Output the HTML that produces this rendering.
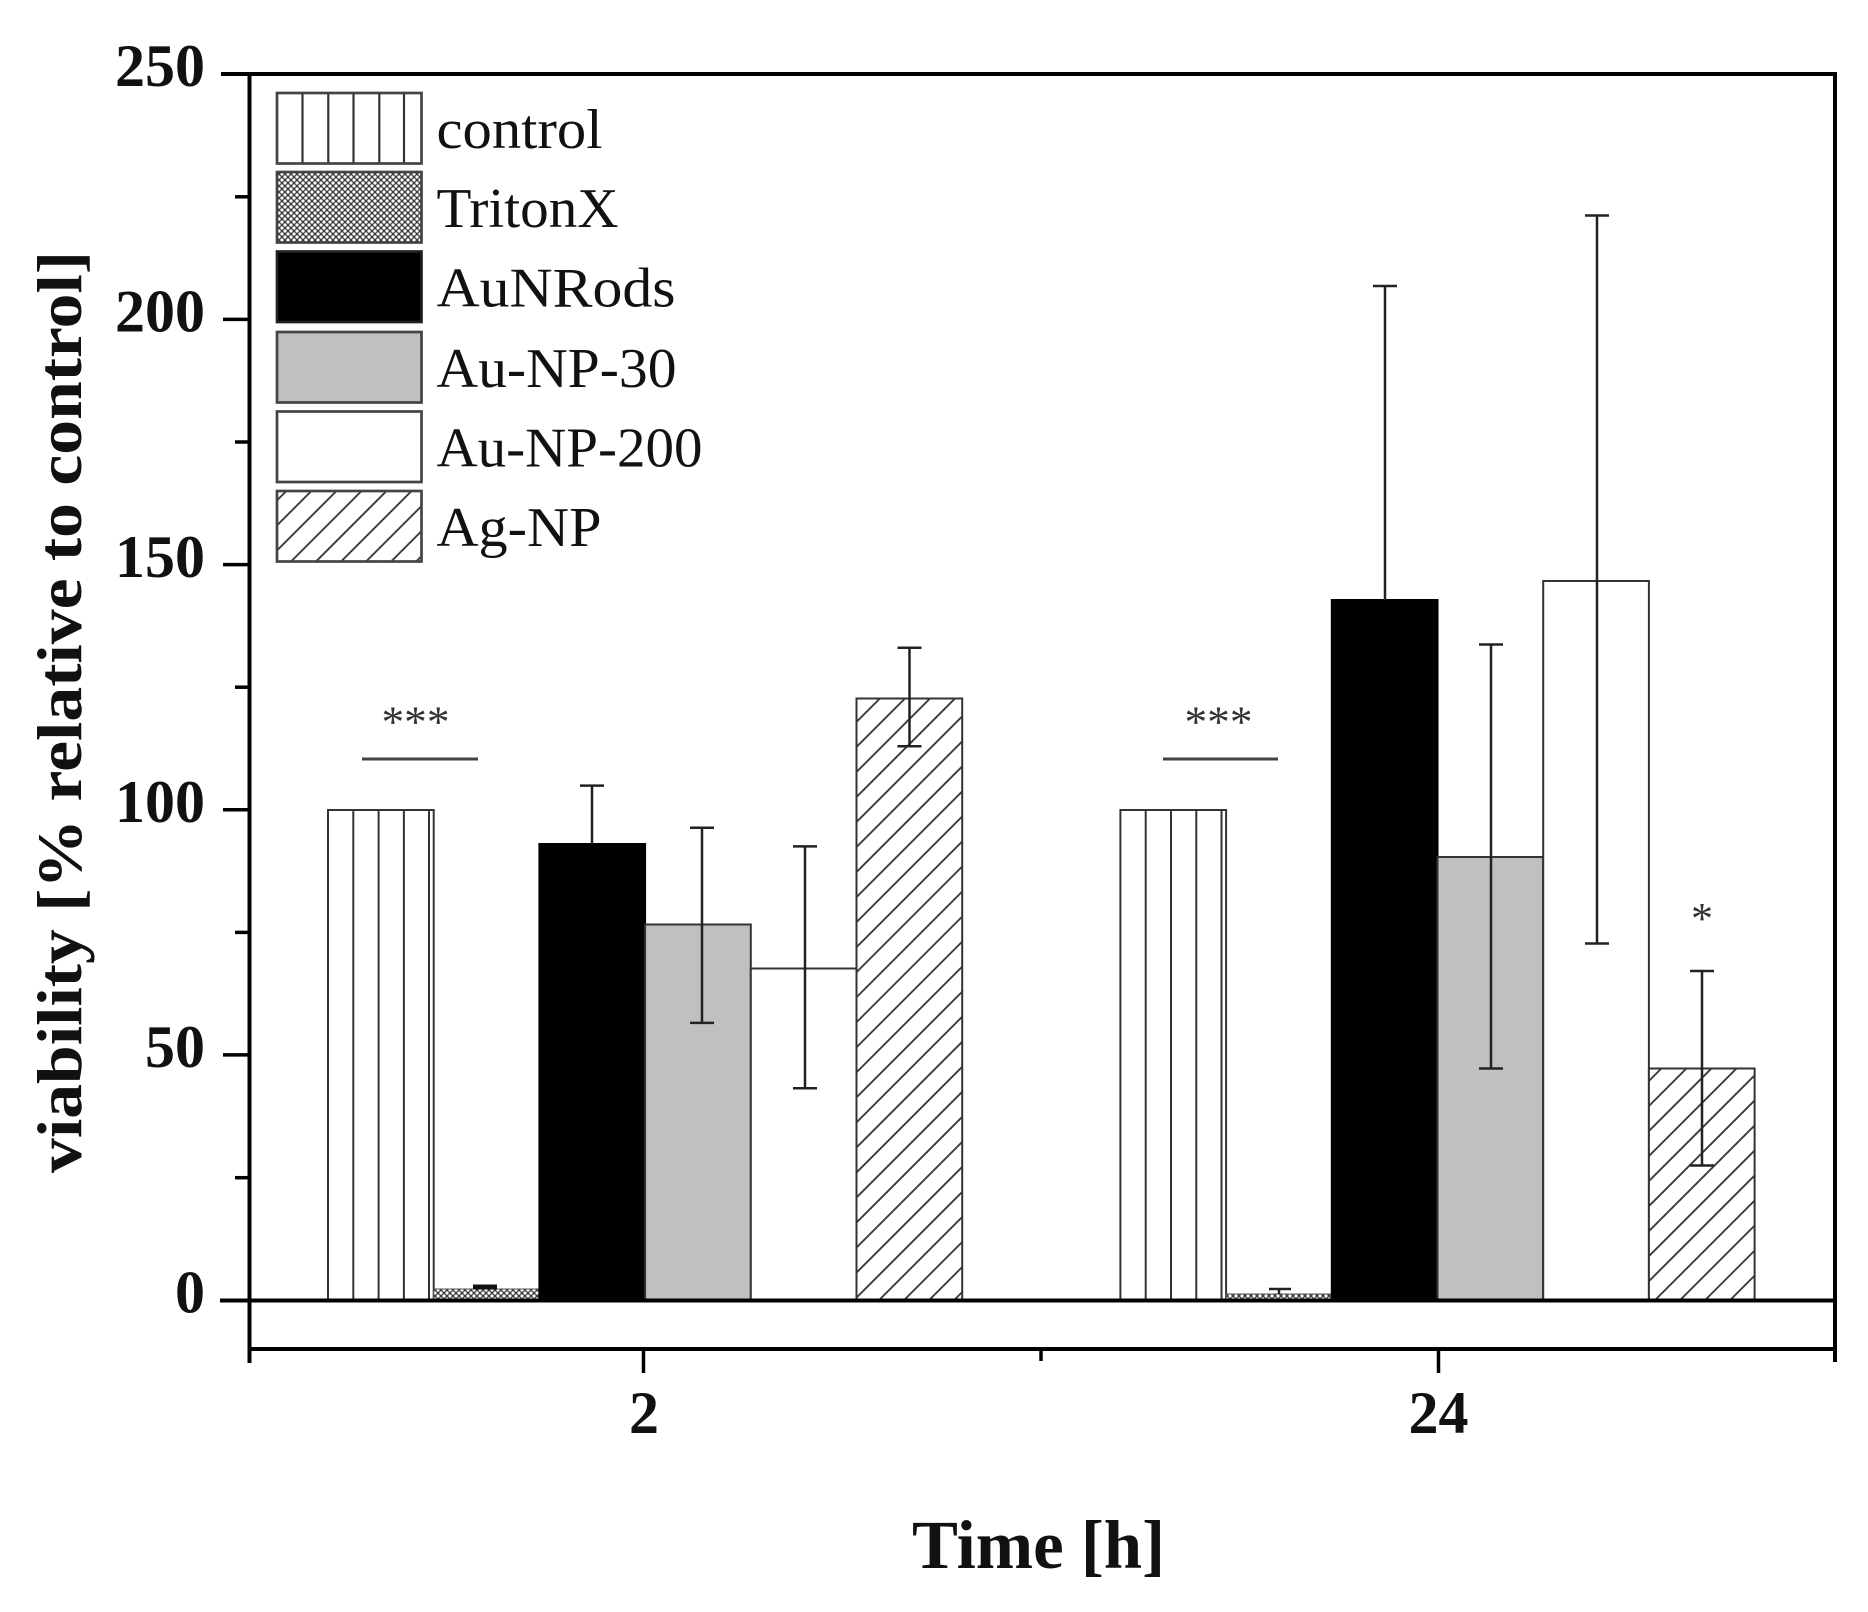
<!DOCTYPE html>
<html>
<head>
<meta charset="utf-8">
<style>
  html, body { margin: 0; padding: 0; background: #ffffff; }
  body { width: 1868px; height: 1612px; overflow: hidden; }
  svg { display: block; }
</style>
</head>
<body>
<svg width="1868" height="1612" viewBox="0 0 1868 1612" xmlns="http://www.w3.org/2000/svg">
  <defs>
    <pattern id="dots" patternUnits="userSpaceOnUse" width="6" height="6">
      <rect x="0" y="0" width="6" height="6" fill="#3c3c3c"/>
      <circle cx="0" cy="0" r="1.6" fill="#fff"/>
      <circle cx="6" cy="0" r="1.6" fill="#fff"/>
      <circle cx="0" cy="6" r="1.6" fill="#fff"/>
      <circle cx="6" cy="6" r="1.6" fill="#fff"/>
      <circle cx="3" cy="3" r="1.6" fill="#fff"/>
    </pattern>
    <pattern id="hatch" patternUnits="userSpaceOnUse" width="17.7" height="20" patternTransform="rotate(45)">
      <rect x="0" y="0" width="17.7" height="20" fill="#fff"/>
      <line x1="1" y1="0" x2="1" y2="20" stroke="#333" stroke-width="1.8"/>
    </pattern>
  </defs>

  <rect x="0" y="0" width="1868" height="1612" fill="#fff"/>

  <!-- ===== Bars: group 2 ===== -->
  <!-- control -->
  <rect x="328" y="810" width="105.7" height="490.5" fill="#fff" stroke="#333" stroke-width="2"/>
  <g stroke="#333" stroke-width="2">
    <line x1="353.3" y1="810" x2="353.3" y2="1300"/>
    <line x1="378.6" y1="810" x2="378.6" y2="1300"/>
    <line x1="403.9" y1="810" x2="403.9" y2="1300"/>
    <line x1="429" y1="810" x2="429" y2="1300"/>
  </g>
  <!-- TritonX -->
  <rect x="433.7" y="1289" width="105.7" height="11.5" fill="url(#dots)" stroke="#555" stroke-width="1"/>
  <rect x="473" y="1284.5" width="24" height="5" fill="#111"/>
  <!-- AuNRods -->
  <rect x="539.4" y="844" width="105.7" height="456.5" fill="#000" stroke="#000" stroke-width="2"/>
  <!-- Au-NP-30 -->
  <rect x="645.1" y="924.5" width="105.7" height="376" fill="#c0c0c0" stroke="#333" stroke-width="2"/>
  <!-- Au-NP-200 -->
  <rect x="750.8" y="968.5" width="105.7" height="332" fill="#fff" stroke="#333" stroke-width="2"/>
  <!-- Ag-NP -->
  <rect x="856.5" y="698.5" width="105.7" height="602" fill="url(#hatch)" stroke="#333" stroke-width="2"/>

  <!-- ===== Bars: group 24 ===== -->
  <rect x="1120.4" y="810" width="105.7" height="490.5" fill="#fff" stroke="#333" stroke-width="2"/>
  <g stroke="#333" stroke-width="2">
    <line x1="1145.7" y1="810" x2="1145.7" y2="1300"/>
    <line x1="1171" y1="810" x2="1171" y2="1300"/>
    <line x1="1196.3" y1="810" x2="1196.3" y2="1300"/>
    <line x1="1221.5" y1="810" x2="1221.5" y2="1300"/>
  </g>
  <rect x="1226.1" y="1294" width="105.7" height="6.5" fill="url(#dots)" stroke="#555" stroke-width="1"/>
  <line x1="1279" y1="1289" x2="1279" y2="1294" stroke="#222" stroke-width="2.5"/>
  <line x1="1269" y1="1289" x2="1291" y2="1289" stroke="#222" stroke-width="2.5"/>
  <rect x="1331.8" y="600" width="105.7" height="700.5" fill="#000" stroke="#000" stroke-width="2"/>
  <rect x="1437.5" y="857" width="105.7" height="443.5" fill="#c0c0c0" stroke="#333" stroke-width="2"/>
  <rect x="1543.2" y="581" width="105.7" height="719.5" fill="#fff" stroke="#333" stroke-width="2"/>
  <rect x="1648.9" y="1068.5" width="105.7" height="232" fill="url(#hatch)" stroke="#333" stroke-width="2"/>

  <!-- ===== Error bars ===== -->
  <g stroke="#222" stroke-width="2.5" fill="none">
    <!-- g2 AuNRods -->
    <line x1="592" y1="785.6" x2="592" y2="844"/>
    <line x1="580" y1="785.6" x2="604" y2="785.6"/>
    <!-- g2 AuNP30 -->
    <line x1="702" y1="827.8" x2="702" y2="1022.9"/>
    <line x1="690" y1="827.8" x2="714" y2="827.8"/>
    <line x1="690" y1="1022.9" x2="714" y2="1022.9"/>
    <!-- g2 AuNP200 -->
    <line x1="805" y1="846.4" x2="805" y2="1088.2"/>
    <line x1="793" y1="846.4" x2="817" y2="846.4"/>
    <line x1="793" y1="1088.2" x2="817" y2="1088.2"/>
    <!-- g2 AgNP -->
    <line x1="909.5" y1="647.8" x2="909.5" y2="746.3"/>
    <line x1="897.5" y1="647.8" x2="921.5" y2="647.8"/>
    <line x1="897.5" y1="746.3" x2="921.5" y2="746.3"/>
    <!-- g24 AuNRods -->
    <line x1="1385" y1="286" x2="1385" y2="600"/>
    <line x1="1373" y1="286" x2="1397" y2="286"/>
    <!-- g24 AuNP30 -->
    <line x1="1491" y1="644.5" x2="1491" y2="1068.5"/>
    <line x1="1479" y1="644.5" x2="1503" y2="644.5"/>
    <line x1="1479" y1="1068.5" x2="1503" y2="1068.5"/>
    <!-- g24 AuNP200 -->
    <line x1="1597" y1="215.5" x2="1597" y2="943.5"/>
    <line x1="1585" y1="215.5" x2="1609" y2="215.5"/>
    <line x1="1585" y1="943.5" x2="1609" y2="943.5"/>
    <!-- g24 AgNP -->
    <line x1="1702" y1="971" x2="1702" y2="1165.5"/>
    <line x1="1690" y1="971" x2="1714" y2="971"/>
    <line x1="1690" y1="1165.5" x2="1714" y2="1165.5"/>
  </g>

  <!-- ===== Significance ===== -->
  <line x1="362" y1="759" x2="478" y2="759" stroke="#444" stroke-width="3"/>
  <line x1="1163" y1="759" x2="1278" y2="759" stroke="#444" stroke-width="3"/>
  <g font-family="'Liberation Serif', serif" font-size="44" fill="#333" text-anchor="middle">
    <text x="415.5" y="736.5" textLength="68" lengthAdjust="spacingAndGlyphs">***</text>
    <text x="1218.5" y="736.5" textLength="68" lengthAdjust="spacingAndGlyphs">***</text>
    <text x="1702" y="933">*</text>
  </g>

  <!-- ===== Axes frame ===== -->
  <g stroke="#000" stroke-width="4" fill="none" stroke-linecap="square">
    <line x1="223" y1="74" x2="1835" y2="74"/>
    <line x1="249.5" y1="74" x2="249.5" y2="1361"/>
    <line x1="1835" y1="74" x2="1835" y2="1360"/>
    <line x1="249.5" y1="1349" x2="1835" y2="1349"/>
    <line x1="222" y1="1300.5" x2="1835" y2="1300.5"/>
  </g>
  <!-- y ticks -->
  <g stroke="#000" stroke-width="3.5">
    <line x1="223" y1="319.4" x2="249" y2="319.4"/>
    <line x1="223" y1="564.6" x2="249" y2="564.6"/>
    <line x1="223" y1="809.8" x2="249" y2="809.8"/>
    <line x1="223" y1="1054.9" x2="249" y2="1054.9"/>
    <line x1="235" y1="196.8" x2="249" y2="196.8"/>
    <line x1="235" y1="442" x2="249" y2="442"/>
    <line x1="235" y1="687.2" x2="249" y2="687.2"/>
    <line x1="235" y1="932.4" x2="249" y2="932.4"/>
    <line x1="235" y1="1177.7" x2="249" y2="1177.7"/>
  </g>
  <!-- x ticks -->
  <g stroke="#000" stroke-width="3.5">
    <line x1="643.5" y1="1349" x2="643.5" y2="1373"/>
    <line x1="1041" y1="1349" x2="1041" y2="1361"/>
    <line x1="1438.5" y1="1349" x2="1438.5" y2="1373"/>
  </g>

  <!-- y tick labels -->
  <g font-family="'Liberation Serif', serif" font-size="60" font-weight="bold" fill="#111" text-anchor="end">
    <text x="205" y="86">250</text>
    <text x="205" y="331.5">200</text>
    <text x="205" y="576.8">150</text>
    <text x="205" y="822">100</text>
    <text x="205" y="1067">50</text>
    <text x="205" y="1312.5">0</text>
  </g>
  <!-- x tick labels -->
  <g font-family="'Liberation Serif', serif" font-size="60" font-weight="bold" fill="#111" text-anchor="middle">
    <text x="644" y="1433">2</text>
    <text x="1438.5" y="1433">24</text>
  </g>

  <!-- axis titles -->
  <text x="1038.5" y="1568" font-family="'Liberation Serif', serif" font-size="69" font-weight="bold" fill="#111" text-anchor="middle" textLength="253" lengthAdjust="spacingAndGlyphs">Time [h]</text>
  <text transform="translate(81,712) rotate(-90)" font-family="'Liberation Serif', serif" font-size="64" font-weight="bold" fill="#111" text-anchor="middle" textLength="922" lengthAdjust="spacingAndGlyphs">viability [% relative to control]</text>

  <!-- ===== Legend ===== -->
  <g stroke="#444" stroke-width="2.7">
    <rect x="277" y="93" width="144.5" height="70.5" fill="#fff"/>
    <rect x="277" y="172" width="144.5" height="70.5" fill="url(#dots)"/>
    <rect x="277" y="251.5" width="144.5" height="70.5" fill="#000" stroke="#222"/>
    <rect x="277" y="332" width="144.5" height="70.5" fill="#c0c0c0"/>
    <rect x="277" y="411.5" width="144.5" height="70.5" fill="#fff"/>
    <rect x="277" y="491" width="144.5" height="70.5" fill="url(#hatch)"/>
  </g>
  <g stroke="#333" stroke-width="2.2">
    <line x1="302.5" y1="94" x2="302.5" y2="162.5"/>
    <line x1="328.3" y1="94" x2="328.3" y2="162.5"/>
    <line x1="353.5" y1="94" x2="353.5" y2="162.5"/>
    <line x1="379.3" y1="94" x2="379.3" y2="162.5"/>
    <line x1="404" y1="94" x2="404" y2="162.5"/>
  </g>
  <g font-family="'Liberation Serif', serif" font-size="56" fill="#111">
    <text x="436.5" y="148" textLength="166" lengthAdjust="spacingAndGlyphs">control</text>
    <text x="436.5" y="227" textLength="182" lengthAdjust="spacingAndGlyphs">TritonX</text>
    <text x="436.5" y="306.5" textLength="239" lengthAdjust="spacingAndGlyphs">AuNRods</text>
    <text x="436.5" y="387" textLength="240" lengthAdjust="spacingAndGlyphs">Au-NP-30</text>
    <text x="436.5" y="466.5" textLength="266" lengthAdjust="spacingAndGlyphs">Au-NP-200</text>
    <text x="436.5" y="546" textLength="165" lengthAdjust="spacingAndGlyphs">Ag-NP</text>
  </g>
</svg>
</body>
</html>
